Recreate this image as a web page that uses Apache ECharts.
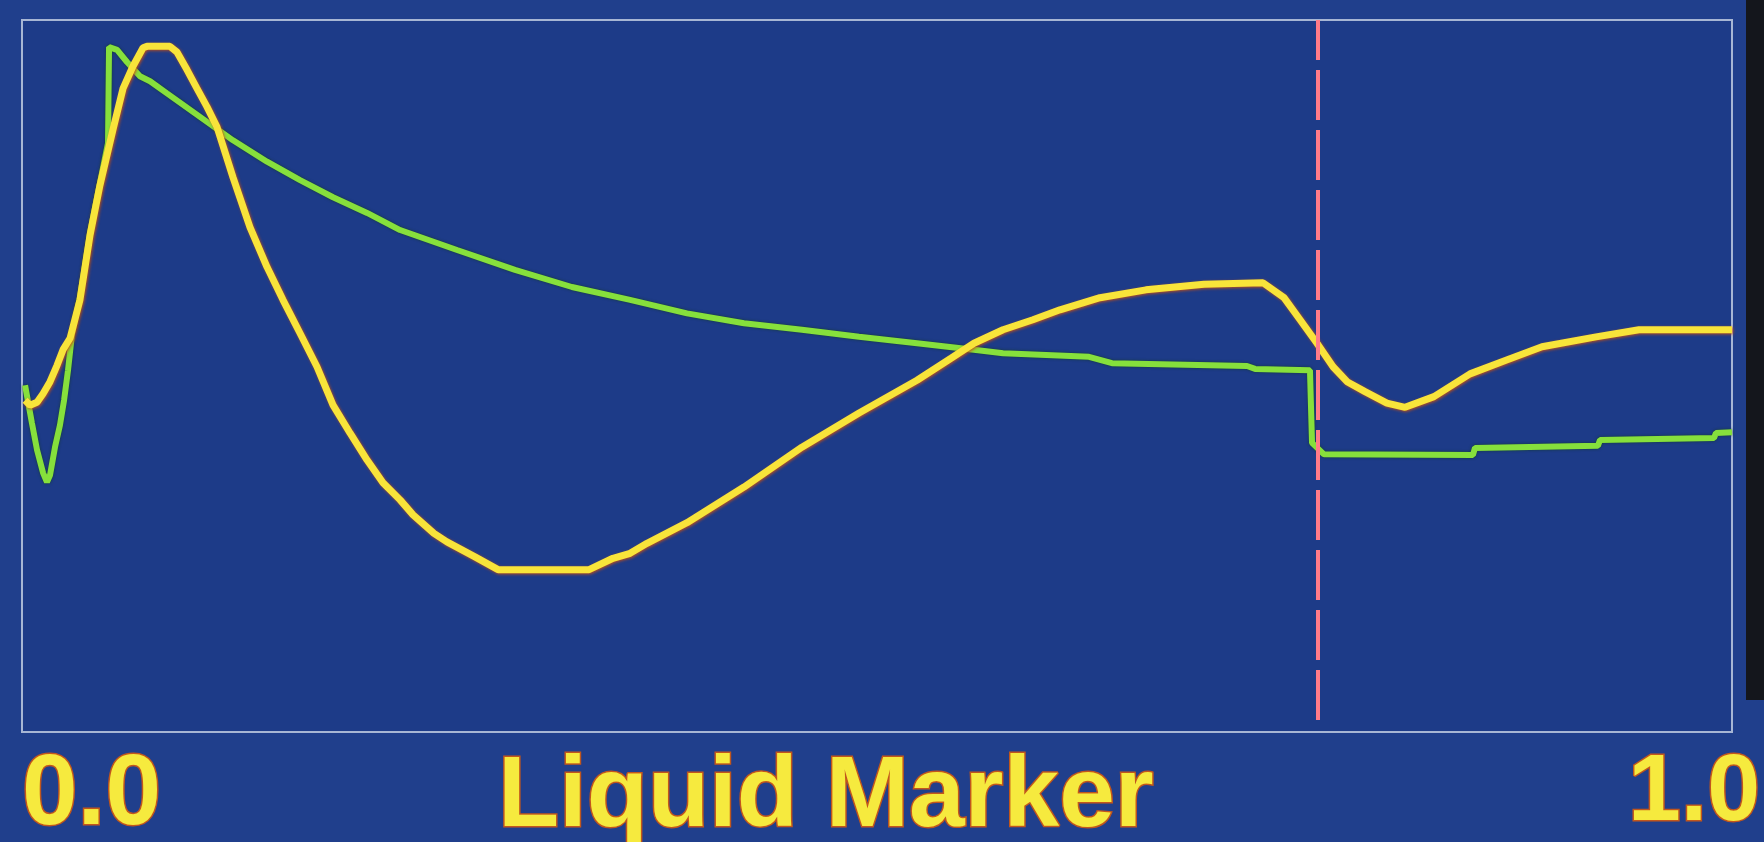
<!DOCTYPE html>
<html>
<head>
<meta charset="utf-8">
<script src="https://cdn.jsdelivr.net/npm/echarts@6/dist/echarts.min.js"></script>
<style>
html,body{margin:0;padding:0;background:#203f8c;}
#chart{width:1764px;height:842px;}
</style>
</head>
<body>
<div id="chart"></div>
<script>
// Axis tick labels and title
const xTickLabels = ['0.0', '1.0'];
const chartTitle = 'Liquid Marker';
const markerX = 0.758;

// Yellow trace [x, y] (axis units 0..1)
const yellowX = [0.0018,0.0047,0.0088,0.0123,0.0164,0.0205,0.0240,0.0281,0.0339,0.0398,0.0456,0.0532,0.0591,0.0649,0.0708,0.0731,0.0865,0.0906,0.0965,0.1023,0.1082,0.1140,0.1234,0.1333,0.1433,0.1526,0.1626,0.1725,0.1819,0.1918,0.2018,0.2111,0.2211,0.2287,0.2409,0.2485,0.2649,0.2784,0.3316,0.3456,0.3556,0.3655,0.3889,0.4222,0.4561,0.4895,0.5234,0.5433,0.5567,0.5737,0.5912,0.6070,0.6304,0.6573,0.6912,0.7257,0.7380,0.7474,0.7573,0.7667,0.7749,0.7854,0.7982,0.8088,0.8257,0.8468,0.8678,0.8889,0.9205,0.9456,1.0];
const yellowY = [0.466,0.459,0.463,0.475,0.492,0.515,0.537,0.553,0.607,0.698,0.768,0.846,0.904,0.935,0.961,0.963,0.963,0.955,0.930,0.904,0.878,0.850,0.779,0.709,0.653,0.607,0.560,0.513,0.459,0.420,0.382,0.350,0.326,0.305,0.279,0.267,0.246,0.228,0.228,0.244,0.251,0.265,0.294,0.344,0.400,0.448,0.494,0.525,0.546,0.565,0.579,0.593,0.610,0.621,0.629,0.631,0.610,0.579,0.546,0.513,0.492,0.478,0.462,0.456,0.471,0.503,0.522,0.541,0.555,0.565,0.565];

// Green trace
const greenX = [0.0018,0.0058,0.0088,0.0123,0.0146,0.0164,0.0193,0.0222,0.0246,0.0269,0.0292,0.0339,0.0398,0.0456,0.0503,0.0509,0.0556,0.0614,0.0690,0.0749,0.0848,0.1041,0.1234,0.1433,0.1626,0.1819,0.2018,0.2211,0.2544,0.2883,0.3216,0.3556,0.3889,0.4222,0.4561,0.4895,0.5234,0.5567,0.5737,0.6240,0.6374,0.7164,0.7211,0.7532,0.7544,0.7614,0.8485,0.8497,0.9216,0.9228,0.9895,0.9906,1.0];
const greenY = [0.487,0.434,0.396,0.364,0.351,0.361,0.400,0.431,0.466,0.508,0.558,0.610,0.701,0.771,0.827,0.962,0.958,0.941,0.921,0.914,0.897,0.864,0.831,0.801,0.775,0.751,0.729,0.705,0.677,0.649,0.625,0.607,0.588,0.574,0.565,0.555,0.546,0.537,0.532,0.527,0.518,0.514,0.510,0.508,0.406,0.390,0.389,0.399,0.402,0.410,0.413,0.420,0.421];

const zip = (xs, ys) => xs.map((x, i) => [x, ys[i]]);

const chart = echarts.init(document.getElementById('chart'), null, {renderer: 'canvas'});
const textYellow = '#f6ea3e';
const textEdge = '#c2561c';
const labelFont = {
  fontFamily: 'Liberation Sans',
  fontWeight: 'bold',
  fontSize: 100,
  color: textYellow,
  textBorderColor: textEdge,
  textBorderWidth: 3
};
chart.setOption({
  backgroundColor: '#203f8c',
  animation: false,
  title: {
    text: chartTitle,
    left: 493,
    top: 743,
    textStyle: labelFont
  },
  grid: {
    left: 22, right: 32, top: 20, bottom: 110,
    outerBoundsMode: 'none',
    containLabel: false,
    show: true,
    borderColor: '#a7b6d4',
    borderWidth: 2,
    backgroundColor: '#1d3b88'
  },
  xAxis: {
    type: 'value', min: 0, max: 1, interval: 1, z: 10,
    axisLine: {show: false},
    axisTick: {show: false},
    splitLine: {show: false},
    axisLabel: Object.assign({
      margin: 14,
      formatter: v => (Math.round(v) === 1 ? '{r|' + xTickLabels[1] + '}' : xTickLabels[0]),
      alignMinLabel: 'left',
      alignMaxLabel: 'right',
      rich: {
        r: Object.assign({}, labelFont, {width: 104, align: 'left', fontSize: 95})
      }
    }, labelFont)
  },
  yAxis: {
    type: 'value', min: 0, max: 1, show: false,
    splitLine: {show: false}
  },
  graphic: [{
    type: 'rect', right: 0, top: 0, z: 0,
    shape: {width: 18, height: 700},
    style: {fill: '#14161c'}
  }],
  series: [
    {
      type: 'line', name: 'green', data: zip(greenX, greenY),
      showSymbol: false, z: 2,
      lineStyle: {color: '#86e03c', width: 6, shadowColor: 'rgba(20,60,10,0.7)', shadowBlur: 3}
    },
    {
      type: 'line', name: 'yellow', data: zip(yellowX, yellowY),
      showSymbol: false, z: 3,
      lineStyle: {color: '#f8e43a', width: 7, shadowColor: 'rgba(200,80,20,0.9)', shadowBlur: 3, shadowOffsetX: 1, shadowOffsetY: 1},
      markLine: {
        silent: true, symbol: 'none', label: {show: false},
        lineStyle: {color: '#ff7b88', width: 4, type: [50, 10]},
        data: [[{coord: [markerX, 0.017]}, {coord: [markerX, 1]}]]
      }
    }
  ]
});
</script>
</body>
</html>
